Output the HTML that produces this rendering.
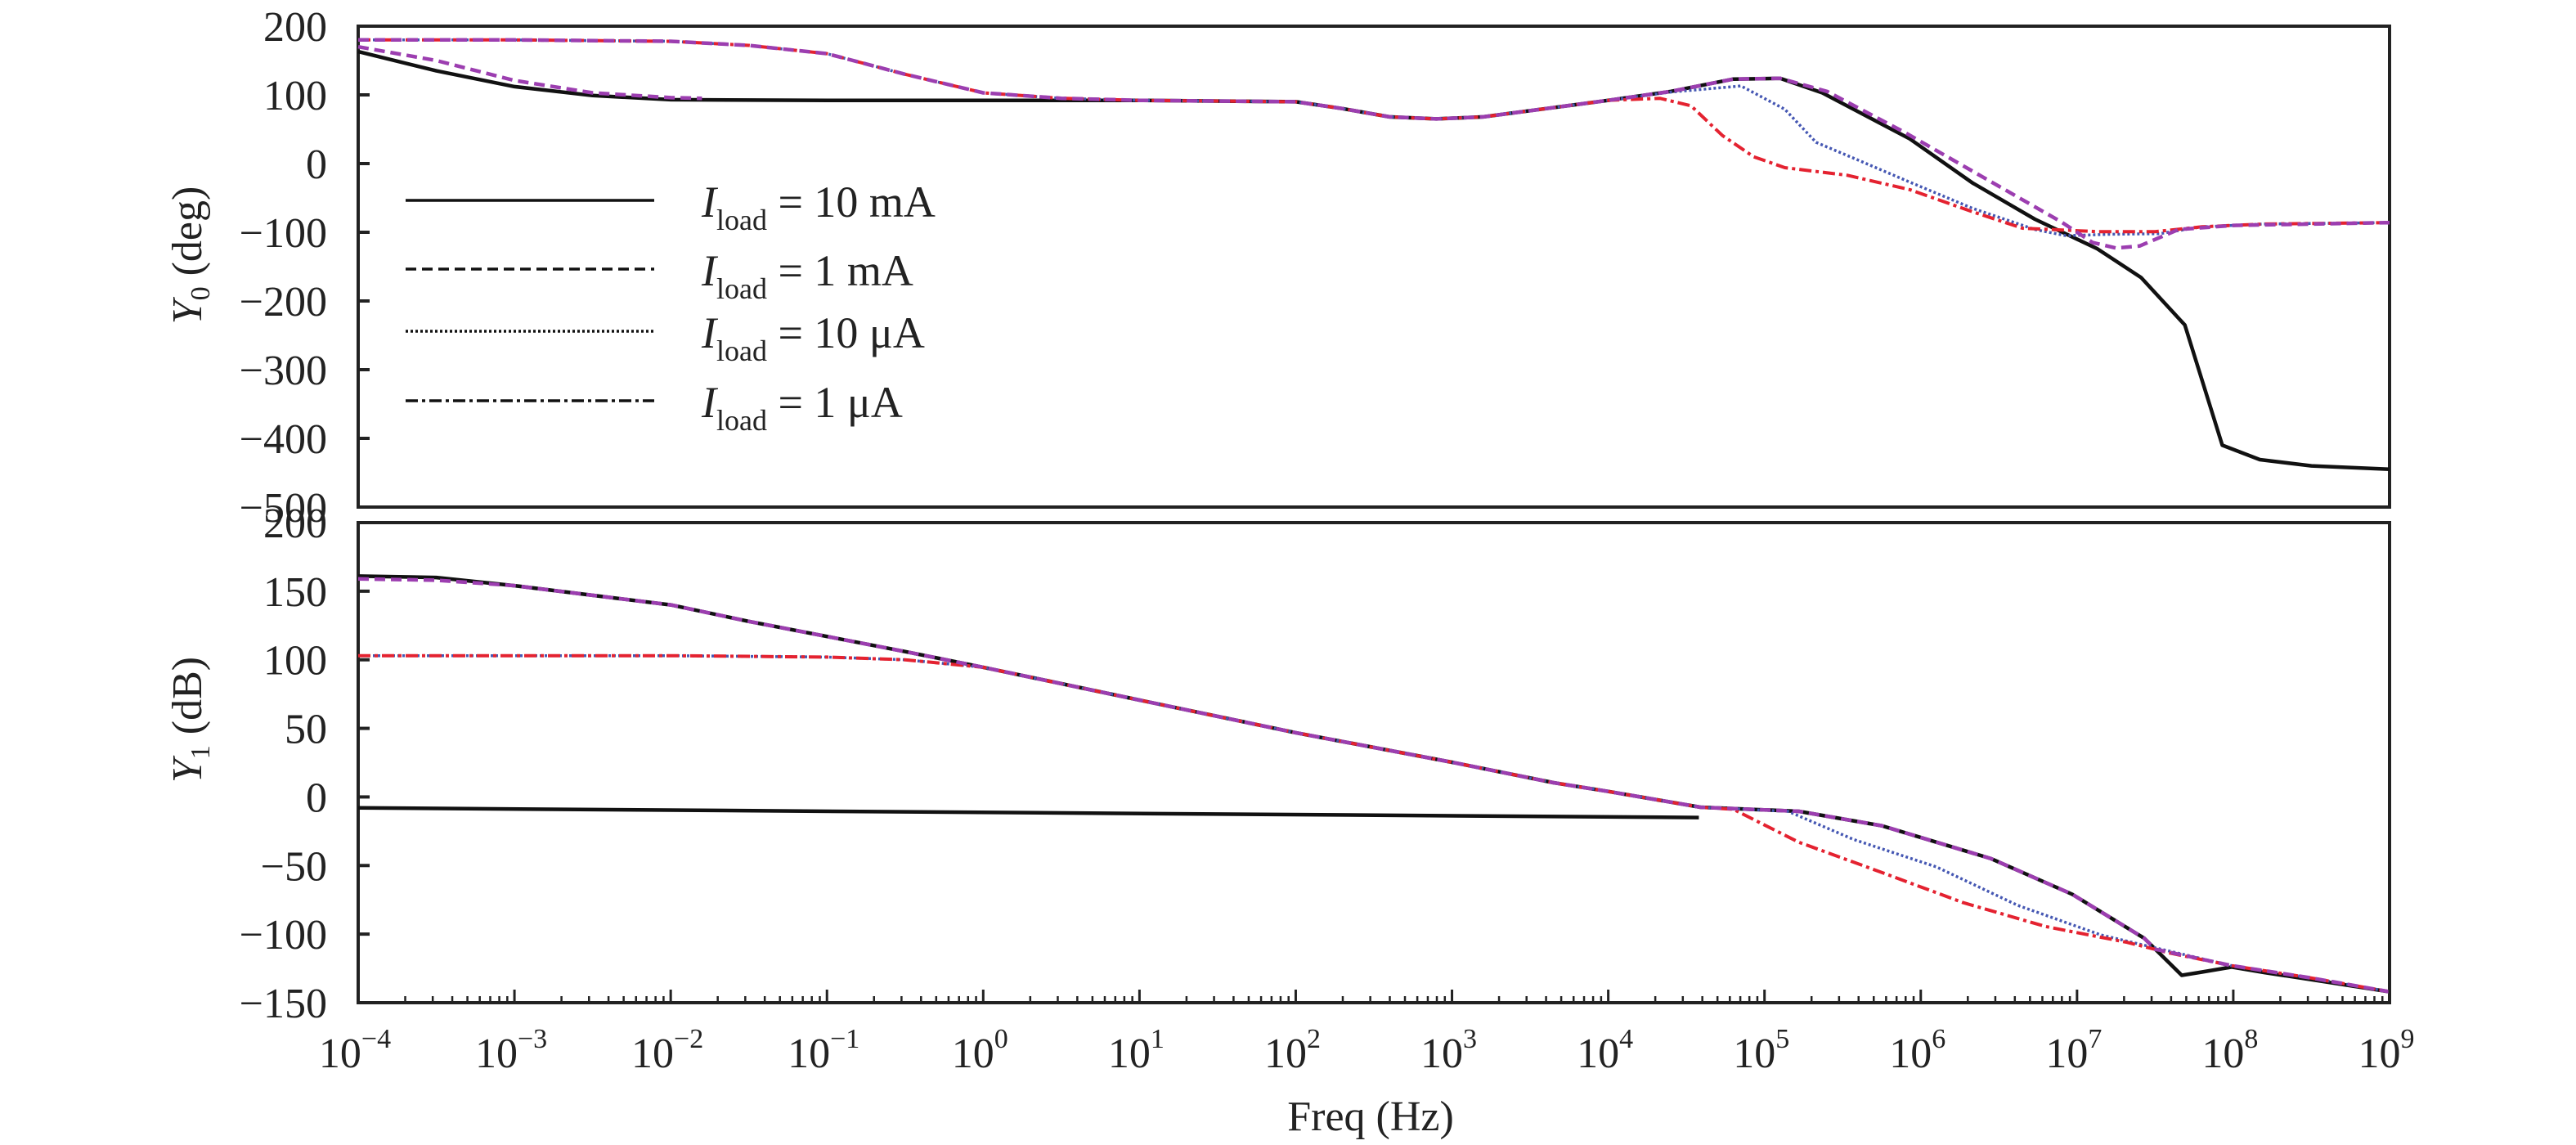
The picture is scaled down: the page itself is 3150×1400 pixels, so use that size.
<!DOCTYPE html>
<html><head><meta charset="utf-8"><style>
html,body{margin:0;padding:0;background:#fff;}
svg{display:block;font-family:"Liberation Serif",serif;}
</style></head><body>
<svg id="chart" width="3150" height="1400" viewBox="0 0 3150 1400" xmlns="http://www.w3.org/2000/svg">
<g id="frames"></g>
<g id="series"></g>
<g id="axes"></g>
<g id="legend"></g>
</svg>
<script>
// ---- data ----
const decades = [-4,-3,-2,-1,0,1,2,3,4,5,6,7,8,9];
const topTicks = [200,100,0,-100,-200,-300,-400,-500];
const botTicks = [200,150,100,50,0,-50,-100,-150];

// Top panel: Y0 (deg)
const top10mA_X = [-4,-3.5,-3,-2.5,-2,-1,0,1,2,2.3,2.6,2.9,3.2,3.6,4,4.4,4.8,5.1,5.37,5.93,6.33,6.73,7.13,7.41,7.69,7.93,8.17,8.5,9];
const top10mA_Y = [163,135,112,99,93,92,92,92,90,80,68,65,68,80,92,105,123,124,103,36,-28,-81,-124,-166,-235,-410,-431,-440,-445];
const top1mA_X = [-4,-3,-2,-1.5,-1,-0.5,0,0.5,1,2,2.3,2.6,2.9,3.2,3.6,4,4.4,4.8,5.1,5.4,5.9,6.4,6.9,7.1,7.25,7.4,7.65,8,9];
const top1mA_Y = [180,180,178,172,160,130,103,95,92,90,80,68,65,68,80,92,105,123,124,105,45,-20,-85,-115,-123,-120,-96,-90,-86];
const top1mAb_X = [-4,-3.5,-3,-2.5,-2,-1.8];
const top1mAb_Y = [170,150,121,103,96,95];
const top10uA_X = [-4,-3,-2,-1.5,-1,-0.5,0,0.5,1,2,2.3,2.6,2.9,3.2,3.6,4,4.4,4.85,5.13,5.33,5.6,5.93,6.33,6.73,6.93,7.2,7.53,7.8,8.2,9];
const top10uA_Y = [180,180,178,172,160,130,103,95,92,90,80,68,65,68,80,92,104,113,79,31,5,-27,-65,-96,-105,-103,-102,-92,-88,-86];
const top1uA_X = [-4,-3,-2,-1.5,-1,-0.5,0,0.5,1,2,2.3,2.6,2.9,3.2,3.6,4,4.33,4.53,4.73,4.93,5.13,5.53,5.93,6.33,6.65,7.13,7.5,7.8,8.2,9];
const top1uA_Y = [180,180,178,172,160,130,103,95,92,90,80,68,65,68,80,92,95,84,41,10,-6,-17,-38,-70,-94,-99,-99,-92,-88,-86];

// Bottom panel: Y1 (dB)
const bot10mA_X = [-4,-3.5,-3,-2.5,-2,-1.5,-1,-0.5,0,1,2,3,3.65,4,4.59,5.22,5.75,6.45,6.97,7.43,7.67,7.78,7.99,8.2,8.6,9];
const bot10mA_Y = [161,160,154,147,140,128,117,106,94.5,70.6,46.8,25.3,10.4,4,-7.5,-10.5,-21,-45,-71,-103,-130,-128,-124,-128,-135,-142];
const bot10mAb_X = [-4,4.58];
const bot10mAb_Y = [-8,-15];
const bot1mA_X = [-4,-3.5,-3,-2.5,-2,-1.5,-1,-0.5,0,1,2,3,3.65,4,4.59,5.22,5.75,6.45,6.97,7.43,7.5,7.99,8.5,9];
const bot1mA_Y = [159,158,154,147,140,128,117,106,94.5,70.6,46.8,25.3,10.4,4,-7.5,-10.5,-21,-45,-71,-103,-111,-123,-132,-142];
const bot10uA_X = [-4,-2,-1,-0.5,0,1,2,3,3.65,4,4.59,5.15,5.57,6.1,6.62,7.15,7.5,7.99,8.5,9];
const bot10uA_Y = [103,103,102,100,94.5,70.6,46.8,25.3,10.4,4,-7.5,-10.5,-31,-51,-79,-100.5,-110,-123,-132,-142];
const bot1uA_X = [-4,-2,-1,-0.5,0,1,2,3,3.65,4,4.59,4.8,5.22,5.75,6.27,6.8,7.32,7.6,7.99,8.5,9];
const bot1uA_Y = [103,103,102,100,94.5,70.6,46.8,25.3,10.4,4,-7.5,-9,-33,-55,-77,-94.5,-106,-114,-123,-132,-142];

// ---- layout ----
const NS = "http://www.w3.org/2000/svg";
const L = 438, R = 2922;
const T1 = 32, B1 = 620, T2 = 639, B2 = 1226;
function xs(lf){ return L + (lf + 4) / 13 * (R - L); }
function y1(v){ return T1 + (200 - v) / 700 * (B1 - T1); }
function y2(v){ return T2 + (200 - v) / 350 * (B2 - T2); }
function mk(tag, attrs, parent){
  const e = document.createElementNS(NS, tag);
  for (const k in attrs) e.setAttribute(k, attrs[k]);
  parent.appendChild(e); return e;
}
const frames = document.getElementById('frames');
const series = document.getElementById('series');
const axes = document.getElementById('axes');
const legend = document.getElementById('legend');

let f1 = mk('rect', {x:L, y:T1, width:R-L, height:B1-T1, fill:'none', stroke:'#222', 'stroke-width':4}, frames);


let f2 = mk('rect', {x:L, y:T2, width:R-L, height:B2-T2, fill:'none', stroke:'#222', 'stroke-width':4}, frames);



const styles = {
  s10mA: {stroke:'#111', dash:'', w:4.5},
  s1mA: {stroke:'#9c3eb0', dash:'13 7', w:4.5},
  s10uA: {stroke:'#4557b3', dash:'3 3', w:3.5},
  s1uA: {stroke:'#e42230', dash:'15 5 4 5', w:4}
};
function drawLine(X, Y, yf, st, name){
  let d = '';
  for (let i = 0; i < X.length; i++) d += (i ? 'L' : 'M') + xs(X[i]).toFixed(1) + ',' + yf(Y[i]).toFixed(1);
  const p = mk('path', {d:d, fill:'none', stroke:st.stroke, 'stroke-width':st.w, 'stroke-dasharray':st.dash, 'stroke-linejoin':'round'}, series);
  
  
}
drawLine(top10mA_X, top10mA_Y, y1, styles.s10mA, 'phase-line-10ma');
drawLine(top10uA_X, top10uA_Y, y1, styles.s10uA, 'phase-line-10ua');
drawLine(top1uA_X, top1uA_Y, y1, styles.s1uA, 'phase-line-1ua');
drawLine(top1mA_X, top1mA_Y, y1, styles.s1mA, 'phase-line-1ma');
drawLine(top1mAb_X, top1mAb_Y, y1, styles.s1mA, 'phase-line-1ma-branch');
drawLine(bot10mA_X, bot10mA_Y, y2, styles.s10mA, 'gain-line-10ma');
drawLine(bot10mAb_X, bot10mAb_Y, y2, styles.s10mA, 'gain-line-10ma-branch');
drawLine(bot10uA_X, bot10uA_Y, y2, styles.s10uA, 'gain-line-10ua');
drawLine(bot1uA_X, bot1uA_Y, y2, styles.s1uA, 'gain-line-1ua');
drawLine(bot1mA_X, bot1mA_Y, y2, styles.s1mA, 'gain-line-1ma');

// y ticks
function yTicks(arr, yf, name){
  arr.forEach(v => {
    const yy = yf(v);
    const t = mk('line', {x1:L, x2:L+14, y1:yy, y2:yy, stroke:'#222', 'stroke-width':4}, axes);
    
    
    const tx = mk('text', {x:400, y:yy+18, 'text-anchor':'end', 'font-size':52, fill:'#222'}, axes);
    tx.textContent = v < 0 ? '\u2212' + Math.abs(v) : String(v);
    
    
  });
}
yTicks(topTicks, y1, 'y0-axis');
yTicks(botTicks, y2, 'y1-axis');

// x ticks
decades.forEach((d, i) => {
  const xx = xs(d);
  const t = mk('line', {x1:xx, x2:xx, y1:B2, y2:B2-16, stroke:'#222', 'stroke-width':3}, axes);
  
  
  if (i < decades.length - 1) {
    for (let m = 2; m <= 9; m++) {
      const mx = xs(d + Math.log10(m));
      const mt = mk('line', {x1:mx, x2:mx, y1:B2, y2:B2-8, stroke:'#222', 'stroke-width':2.5}, axes);
      
      
    }
  }
  const tx = mk('text', {x:xx-4, y:1305, 'text-anchor':'middle', 'font-size':52, fill:'#222'}, axes);
  
  
  tx.textContent = '10';
  const sp = mk('tspan', {dy:-24, 'font-size':34}, tx);
  sp.textContent = d < 0 ? '\u2212' + Math.abs(d) : String(d);
});

// axis titles
const xt = mk('text', {x:1676, y:1382, 'text-anchor':'middle', 'font-size':52, fill:'#222'}, axes);


xt.textContent = 'Freq (Hz)';
function yTitle(cy, sub, unit, name){
  const t = mk('text', {x:0, y:0, 'text-anchor':'middle', 'font-size':52, fill:'#222', transform:'translate(246,'+cy+') rotate(-90)'}, axes);
  
  
  const a = mk('tspan', {'font-style':'italic'}, t); a.textContent = 'Y';
  const b = mk('tspan', {dy:10, 'font-size':34}, t); b.textContent = sub;
  const c = mk('tspan', {dy:-10}, t); c.textContent = ' (' + unit + ')';
}
yTitle(312, '0', 'deg', 'y0-axis-title');
yTitle(880, '1', 'dB', 'y1-axis-title');

// legend
const legLabels = ['= 10 mA', '= 1 mA', '= 10 \u03bcA', '= 1 \u03bcA'];
const legKeys = ['s10mA','s1mA','s10uA','s1uA'];
const legY = [245, 329, 405, 490];
legKeys.forEach((k, i) => {
  const st = styles[k];
  const ln = mk('line', {x1:496, x2:800, y1:legY[i], y2:legY[i], stroke:'#111', 'stroke-width':3.5, 'stroke-dasharray':st.dash}, legend);
  
  
  const t = mk('text', {x:858, y:legY[i]+20, 'font-size':54, fill:'#222'}, legend);
  
  
  const a = mk('tspan', {'font-style':'italic'}, t); a.textContent = 'I';
  const b = mk('tspan', {dy:16, 'font-size':36}, t); b.textContent = 'load';
  const c = mk('tspan', {dy:-16}, t); c.textContent = ' ' + legLabels[i];
});
</script>
</body></html>
